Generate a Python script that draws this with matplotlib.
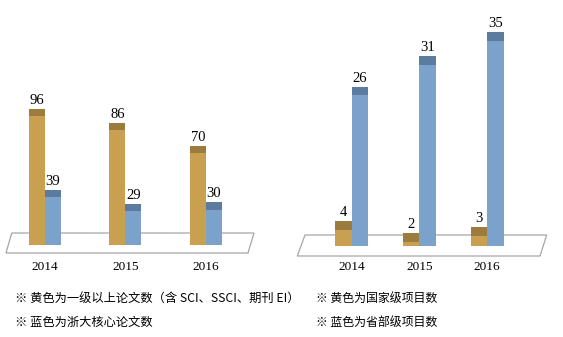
import matplotlib
matplotlib.use("Agg")
import matplotlib.pyplot as plt
from matplotlib.patches import Polygon
import numpy as np

years = ["2014", "2015", "2016"]
papers_gold = [96, 86, 70]
papers_blue = [39, 29, 30]
projects_gold = [4, 2, 3]
projects_blue = [26, 31, 35]
notes_left = ["※ 黄色为一级以上论文数（含 SCI、SSCI、期刊 EI）", "※ 蓝色为浙大核心论文数"]
notes_right = ["※ 黄色为国家级项目数", "※ 蓝色为省部级项目数"]

GOLD, GOLD_CAP = "#C9A050", "#9C7B3E"
BLUE, BLUE_CAP = "#7BA2CB", "#5B7C9E"

W, H = 563, 337
fig = plt.figure(figsize=(W / 100, H / 100), dpi=100)
fig.patch.set_facecolor("white")


def make_axes(px_left, px_right, py_top, py_bottom):
    return fig.add_axes([px_left / W, (H - py_bottom) / H,
                         (px_right - px_left) / W, (py_bottom - py_top) / H])


def draw_panel(ax, gold, blue, width, cap, xlim, ylim, floor, label_off):
    x = np.arange(len(years))
    ax.set_xlim(*xlim)
    ax.set_ylim(*ylim)
    ax.axis("off")
    ax.add_patch(Polygon(floor, closed=True, facecolor="white",
                         edgecolor="#A6A6A6", linewidth=0.9, zorder=1))
    for vals, off, col, ccol in ((gold, -width / 2, GOLD, GOLD_CAP),
                                 (blue, width / 2, BLUE, BLUE_CAP)):
        vals = np.array(vals, dtype=float)
        ax.bar(x + off, vals, width=width, color=col, zorder=2, linewidth=0)
        ax.bar(x + off, cap, bottom=vals - cap, width=width, color=ccol,
               zorder=3, linewidth=0)
        for xi, v in zip(x + off, vals):
            ax.text(xi, v + label_off, f"{int(v)}", ha="center", va="bottom",
                    fontsize=10.5, family="Liberation Serif", zorder=4)
    for xi, yr in zip(x, years):
        ax.text(xi, ylim[0] + (ylim[1] - ylim[0]) * (13.5 / 280), yr,
                ha="center", va="center", fontsize=9.5,
                family="Liberation Serif")


# left panel: 1.42 px per unit, baseline at py 245
s1 = 1.42
ax1 = make_axes(0, 260, 0, 280)
x0, u = 45.0, 80.4
xlim1 = ((0 - x0) / u, (260 - x0) / u)
ylim1 = ((245 - 280) / s1, 245 / s1)
floor1 = [((11.7 - x0) / u, (245 - 233) / s1), ((254 - x0) / u, (245 - 233) / s1),
          ((248 - x0) / u, (245 - 253) / s1), ((6 - x0) / u, (245 - 253) / s1)]
draw_panel(ax1, papers_gold, papers_blue, 16 / u, 7.5 / s1, xlim1, ylim1,
           floor1, 2.0 / s1)

# right panel: 6.1 px per unit, baseline at py 245.5
s2 = 6.1
ax2 = make_axes(290, 563, 0, 280)
x0, u = 351.7, 67.7
xlim2 = ((290 - x0) / u, (563 - x0) / u)
ylim2 = ((245.5 - 280) / s2, 245.5 / s2)
floor2 = [((305 - x0) / u, (245.5 - 235) / s2), ((546.7 - x0) / u, (245.5 - 235) / s2),
          ((540 - x0) / u, (245.5 - 256) / s2), ((297.3 - x0) / u, (245.5 - 256) / s2)]
draw_panel(ax2, projects_gold, projects_blue, 16.5 / u, 8.5 / s2, xlim2, ylim2,
           floor2, 2.0 / s2)

fam = ["Noto Sans CJK SC", "DejaVu Sans"]
for i, t in enumerate(notes_left):
    fig.text(15 / W, 1 - (298 + 24 * i) / H, t, ha="left", va="center",
             fontsize=8.8, family=fam)
for i, t in enumerate(notes_right):
    fig.text(316 / W, 1 - (298 + 24 * i) / H, t, ha="left", va="center",
             fontsize=8.6, family=fam)

fig.savefig("out.png", dpi=100)
